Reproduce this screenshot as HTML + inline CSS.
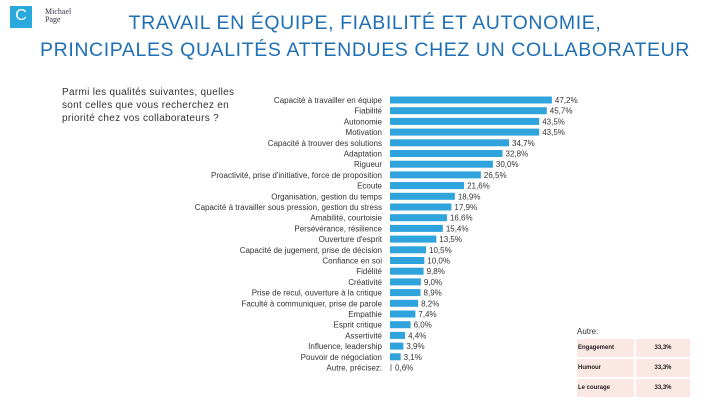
<!DOCTYPE html>
<html><head><meta charset="utf-8"><style>
body{margin:0;width:720px;height:405px;background:#fff;font-family:"Liberation Sans",sans-serif;position:relative;overflow:hidden}
.abs{position:absolute}
</style></head><body>
<div class="abs" style="left:10px;top:6px;width:22px;height:22px;background:#2aa9df;color:#fff;font-size:16px;text-align:center;line-height:20px">C</div>
<div class="abs" style="left:45px;top:8px;font-family:'Liberation Serif',serif;font-size:8px;color:#334;line-height:8px">Michael<br>Page</div>
<div class="abs" style="left:5px;width:720px;top:10px;text-align:center;color:#1f6fb5;font-size:19.5px;line-height:27px;letter-spacing:0.6px">TRAVAIL EN ÉQUIPE, FIABILITÉ ET AUTONOMIE,<br>PRINCIPALES QUALITÉS ATTENDUES CHEZ UN COLLABORATEUR</div>
<div class="abs" style="left:62px;top:86px;width:180px;font-size:10px;color:#333;line-height:13px;letter-spacing:0.3px">Parmi les qualités suivantes, quelles sont celles que vous recherchez en priorité chez vos collaborateurs ?</div>
<svg class="abs" style="left:0;top:0" width="720" height="405" id="chart"></svg>
<div class="abs" style="left:577px;top:327px;font-size:8px;color:#333">Autre:</div>
<div class="abs" id="tbl" style="left:577px;top:339px"></div>
<script>
const categories=["Capacité à travailler en équipe","Fiabilité","Autonomie","Motivation","Capacité à trouver des solutions","Adaptation","Rigueur","Proactivité, prise d'initiative, force de proposition","Ecoute","Organisation, gestion du temps","Capacité à travailler sous pression, gestion du stress","Amabilité, courtoisie","Persévérance, résilience","Ouverture d'esprit","Capacité de jugement, prise de décision","Confiance en soi","Fidélité","Créativité","Prise de recul, ouverture à la critique","Faculté à communiquer, prise de parole","Empathie","Esprit critique","Assertivité","Influence, leadership","Pouvoir de négociation","Autre, précisez:"];
const values=[47.2,45.7,43.5,43.5,34.7,32.8,30.0,26.5,21.6,18.9,17.9,16.6,15.4,13.5,10.5,10.0,9.8,9.0,8.9,8.2,7.4,6.0,4.4,3.9,3.1,0.6];
const labels=["47,2%","45,7%","43,5%","43,5%","34,7%","32,8%","30,0%","26,5%","21,6%","18,9%","17,9%","16,6%","15,4%","13,5%","10,5%","10,0%","9,8%","9,0%","8,9%","8,2%","7,4%","6,0%","4,4%","3,9%","3,1%","0,6%"];
const otherNames=["Engagement","Humour","Le courage"];
const otherValues=["33,3%","33,3%","33,3%"];
const NS="http://www.w3.org/2000/svg",svg=document.getElementById('chart');
const x0=390,sx=v=>v*3.43,y=i=>100+i*10.7;
categories.forEach((c,i)=>{
 const r=document.createElementNS(NS,'rect');
 r.setAttribute('x',x0);r.setAttribute('y',y(i)-3.5);r.setAttribute('width',Math.max(sx(values[i]),1));r.setAttribute('height',7);r.setAttribute('fill',values[i]<1?'#bbb':'#2ea3dc');
 
 
 svg.appendChild(r);
 const t=document.createElementNS(NS,'text');
 t.setAttribute('x',x0-8);t.setAttribute('y',y(i)+3);t.setAttribute('text-anchor','end');t.setAttribute('font-size','8');t.setAttribute('fill','#333');t.textContent=c;
 
 
 svg.appendChild(t);
 const v=document.createElementNS(NS,'text');
 v.setAttribute('x',x0+sx(values[i])+3);v.setAttribute('y',y(i)+3);v.setAttribute('font-size','8');v.setAttribute('fill','#333');v.textContent=labels[i];
 
 
 svg.appendChild(v);
});
const tbl=document.getElementById('tbl');
otherNames.forEach((n,i)=>{
 const row=document.createElement('div');
 
 
 row.style.cssText='display:flex;margin-bottom:2px;font-size:6px;color:#222;font-weight:bold';
 row.innerHTML='<div style="width:56px;height:18px;background:#fbe8e4;line-height:18px;padding-left:1px">'+n+'</div><div style="width:54px;height:18px;background:#fbe8e4;margin-left:2px;line-height:18px;text-align:center">'+otherValues[i]+'</div>';
 tbl.appendChild(row);
});
</script>
</body></html>
